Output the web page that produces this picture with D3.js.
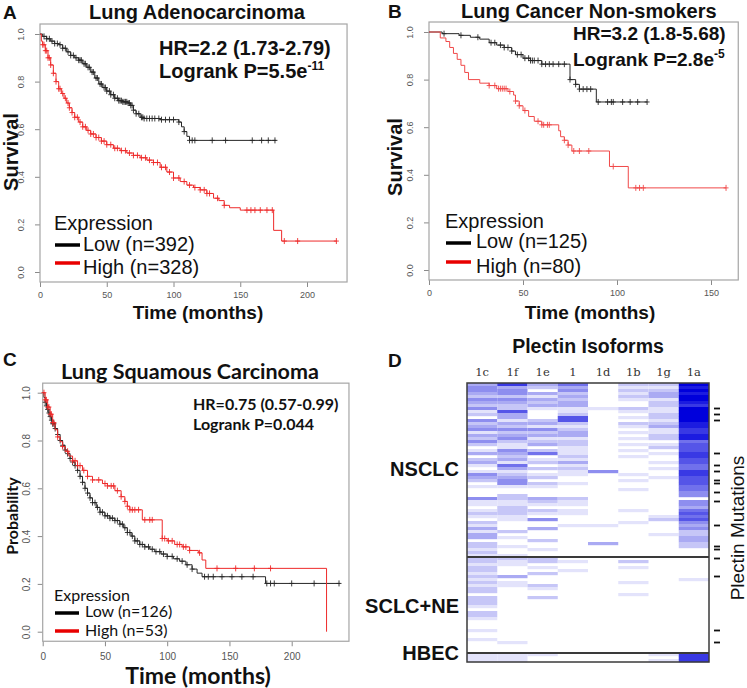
<!DOCTYPE html>
<html>
<head>
<meta charset="utf-8">
<title>Plectin survival and isoforms</title>
<script src="https://d3js.org/d3.v7.min.js"></script>
<style>
  body { margin: 0; background: #fff; }
</style>
</head>
<body>
<svg id="fig" width="747" height="688"></svg>
<script>
// ---------- Panel A: Lung Adenocarcinoma ----------
var aLowTime  = [0,2,5,8,11,14,17,20,23,26,29,32,35,38,41,44,47,50,53,56,59,62,66,68,70,72,75,78,90,104,106,108,110,112,177];
var aLowSurv  = [1,.99,.98,.97,.96,.955,.94,.925,.91,.90,.89,.875,.86,.84,.815,.79,.775,.76,.745,.73,.72,.715,.71,.70,.68,.665,.65,.645,.64,.63,.61,.59,.57,.553,.553];
var aLowCens  = [3,5,7,9,11,13,15,17,19,21,23,25,27,29,30,31,33,34,36,37,39,40,42,43,45,46,48,49,50,52,53,55,56,58,59,60,61,62,63,64,65,66,67,68,69,70,72,74,76,77,78,80,82,84,86,89,91,94,97,100,104,108,112,114,116,129,139,159,166,171,176];
var aHighTime = [0,1,2,4,6,8,10,12,14,16,18,20,22,24,26,29,32,35,38,42,46,50,55,60,65,70,75,80,85,90,95,100,105,110,115,120,125,130,134,138,142,150,175,181,222];
var aHighSurv = [1,.97,.955,.93,.90,.87,.835,.80,.77,.75,.73,.71,.69,.67,.65,.63,.61,.595,.58,.565,.55,.535,.52,.51,.50,.49,.48,.47,.46,.44,.42,.395,.38,.365,.355,.345,.33,.31,.30,.28,.27,.26,.175,.13,.13];
var aHighCens = [2,3,4,5,6,7,8,10,12,14,15,17,19,21,22,24,26,28,30,32,34,36,38,40,42,44,46,48,50,53,56,58,61,64,67,70,73,76,79,82,85,88,91,94,97,100,104,108,112,116,120,123,125,127,133,138,155,158,161,165,170,174,183,193,222];

// ---------- Panel B: Lung Cancer Non-smokers ----------
var bLowTime  = [0,7,16,22,27,32,36,40,44,46,50,54,60,75,78,80,89,116];
var bLowSurv  = [1,.993,.986,.978,.97,.955,.945,.935,.92,.905,.89,.88,.865,.80,.78,.76,.706,.706];
var bLowCens  = [8,17,26,33,35,38,40,42,44,47,49,51,53,54,55,56,58,60,62,64,66,69,72,75,78,80,82,84,86,90,95,97,98,103,107,111,116];
var bHighTime = [0,6,9,11,13,15,17,19,21,27,32,36,42,45,46,48,50,53,56,60,69,70,72,74,76,96,106,158];
var bHighSurv = [1,.975,.96,.935,.91,.885,.86,.83,.80,.785,.775,.762,.75,.735,.71,.69,.67,.645,.625,.61,.585,.56,.545,.525,.50,.435,.345,.345];
var bHighCens = [32,35,37,38,39,40,41,43,46,48,51,58,60,61,63,64,72,74,77,80,85,98,110,112,114,158];

// ---------- Panel C: Lung Squamous Carcinoma ----------
var cLowTime  = [0,1,2,3,4,5,6,7,8,10,12,14,16,18,20,22,24,26,28,30,32,34,36,38,40,43,46,50,54,58,62,65,68,71,74,78,82,86,90,95,100,105,110,115,120,124,128,179,239];
var cLowSurv  = [1,.98,.96,.945,.93,.915,.90,.885,.87,.85,.825,.80,.78,.76,.745,.725,.71,.695,.675,.65,.625,.60,.58,.56,.54,.52,.50,.485,.475,.465,.45,.435,.415,.40,.38,.365,.355,.345,.335,.325,.315,.305,.295,.28,.262,.245,.23,.202,.202];
var cLowCens  = [2,3,4,5,6,7,8,9,10,12,14,16,18,20,22,24,26,28,30,32,34,36,38,40,42,44,46,48,50,52,54,56,58,60,62,64,66,68,70,72,74,76,78,80,82,85,88,91,94,97,100,104,108,112,116,120,130,133,137,144,152,160,169,180,183,186,200,218,238];
var cHighTime = [0,2,4,6,8,10,12,14,16,18,21,24,28,32,36,40,48,52,58,63,66,68,70,80,96,100,106,112,118,125,128,131,228];
var cHighSurv = [1,.97,.94,.91,.875,.845,.815,.795,.775,.755,.735,.715,.695,.675,.65,.635,.62,.61,.59,.565,.545,.525,.51,.468,.39,.38,.365,.355,.34,.33,.30,.265,0];
var cHighCens = [1,2,3,4,5,6,7,8,9,12,16,20,24,26,28,30,33,36,40,45,50,52,55,57,60,63,66,68,70,72,74,77,82,86,88,96,98,101,104,108,110,113,115,118,126,140,155,170,183];

// ---------- Panel D: Plectin isoform heatmap (intensity 0-9 per sample row) ----------
var isoforms = ["1c","1f","1e","1","1d","1b","1g","1a"];
var groups = ["NSCLC","SCLC+NE","HBEC"];
var nsclcRows = [
  "3443243241"+"2042341324"+"2013023101"+"4320100041"+"1012102131"+"33022121",
  "7344243226"+"3313242342"+"1143231531"+"2344100221"+"1222110002"+"01001001",
  "3203132310"+"0023142312"+"3025012020"+"1202100032"+"1021040030"+"00200100",
  "5342323311"+"2662123312"+"2111213121"+"1001000021"+"1011000100"+"00000000",
  "0000000010"+"0000000000"+"0000000004"+"0000000000"+"0000000100"+"00030000",
  "2121210021"+"0102101010"+"1010100000"+"1010010000"+"0010001000"+"00000000",
  "2123312211"+"2212311220"+"1201001010"+"0100000000"+"0000120000"+"10000000",
  "9898998799"+"9998877885"+"6667766557"+"7666554404"+"4356564342"+"23322000"
];
var sclcRows = [
  "2212212121"+"2202221022"+"1000100100"+"00",
  "2110003011"+"0000000000"+"0000000010"+"00",
  "2201020002"+"1002000000"+"0000000000"+"00",
  "0100100000"+"0000000000"+"0000000000"+"00",
  "0000000000"+"0000000000"+"0000000000"+"00",
  "0201000010"+"0010000000"+"0000000000"+"00",
  "0000000000"+"0000000000"+"0000000000"+"00",
  "0000000100"+"0000000000"+"0000000000"+"00"
];
var hbecRows = ["111","111","100","000","000","000","101","777"];
var mutationRows = [8,10,12,23,27,29,32,33,36,39,47,54,55,58,64,82,86];

var yTicks = [0,0.2,0.4,0.6,0.8,1.0];
var ARIAL = '"Liberation Sans", Arial, sans-serif';
var CALIBRI = 'Lato, "Open Sans", sans-serif';

var svg = d3.select("#fig");
svg.append("rect").attr("width",747).attr("height",688).attr("fill","#fff");

function txt(x, y, s, size, fam, weight, anchor) {
  return svg.append("text").attr("x",x).attr("y",y).text(s)
    .attr("font-size",size).attr("font-family",fam)
    .attr("font-weight",weight || "normal").attr("text-anchor",anchor || "start")
    .attr("fill","#111");
}

function stepAt(ts, ss, t) {
  var i = d3.bisectRight(ts, t) - 1;
  return ss[Math.max(0, i)];
}

function styleAxis(sel) {
  sel.attr("color","#8a8a8a").attr("font-family",ARIAL);
  sel.select(".domain").remove();
  sel.selectAll("text").attr("fill","#555");
}

function kmPanel(p) {
  var g = svg.append("g");
  var x = d3.scaleLinear().domain([0, p.xRef]).range([p.x0, p.x1]);
  var y = d3.scaleLinear().domain([0, 1]).range([p.y0, p.y1]);
  var bx0 = x(0), bx1 = x(p.xEnd), by0 = y(1 + p.pad), by1 = y(-p.pad);

  g.append("g").attr("transform","translate(0,"+by1+")")
    .call(d3.axisBottom(x).tickValues(p.xTicks).tickSize(5).tickPadding(p.xPad))
    .call(styleAxis)
    .attr("font-size",p.tickFont);
  g.append("g").attr("transform","translate("+bx0+",0)")
    .call(d3.axisLeft(y).tickValues(yTicks).tickSize(5).tickFormat(d3.format(".1f")))
    .call(styleAxis)
    .attr("font-size",p.tickFont)
    .selectAll("text").attr("x",null).attr("dy",null).attr("text-anchor","middle")
    .attr("transform","translate("+p.yLab+",0) rotate(-90)");

  g.append("rect").attr("x",bx0).attr("y",by0).attr("width",bx1-bx0).attr("height",by1-by0)
    .attr("fill","none").attr("stroke","#a5a5a5").attr("stroke-width",1.2);

  var line = d3.line().x(function(d){return x(d[0]);}).y(function(d){return y(d[1]);}).curve(d3.curveStepAfter);
  p.curves.forEach(function(c) {
    var pts = c.t.map(function(t,i){return [t, c.s[i]];});
    g.append("path").datum(pts).attr("d",line).attr("fill","none")
      .attr("stroke",c.color).attr("stroke-width",1);
    g.selectAll(null).data(c.cens).enter().append("path")
      .attr("transform",function(d){return "translate("+x(d)+","+y(stepAt(c.t,c.s,d))+")";})
      .attr("d","M-2.5,0H2.5M0,-3V3").attr("fill","none")
      .attr("stroke",c.color).attr("stroke-width",0.9);
  });
}

var BLACK = "#262626", RED = "#ee2a2a";

kmPanel({x0:40, x1:307, xRef:200, xEnd:230, y0:272, y1:34, pad:0.042,
  xTicks:[0,50,100,150,200], xPad:5, yLab:-16, tickFont:9,
  curves:[{t:aLowTime,s:aLowSurv,cens:aLowCens,color:BLACK},
          {t:aHighTime,s:aHighSurv,cens:aHighCens,color:RED}]});
kmPanel({x0:429, x1:711, xRef:150, xEnd:164.5, y0:270, y1:32, pad:0.042,
  xTicks:[0,50,100,150], xPad:5, yLab:-16, tickFont:9,
  curves:[{t:bLowTime,s:bLowSurv,cens:bLowCens,color:BLACK},
          {t:bHighTime,s:bHighSurv,cens:bHighCens,color:"#f04848"}]});
kmPanel({x0:42.7, x1:291.7, xRef:200, xEnd:246, y0:631.7, y1:392.7, pad:0.04,
  xTicks:[0,50,100,150,200], xPad:7, yLab:-13, tickFont:10,
  curves:[{t:cLowTime,s:cLowSurv,cens:cLowCens,color:BLACK},
          {t:cHighTime,s:cHighSurv,cens:cHighCens,color:RED}]});

function legendLine(x1, x2, y, color, w) {
  svg.append("line").attr("x1",x1).attr("x2",x2).attr("y1",y).attr("y2",y)
    .attr("stroke",color).attr("stroke-width",w);
}

// ---- Panel A text ----
txt(3, 19, "A", 19, ARIAL, "bold");
txt(89, 19, "Lung Adenocarcinoma", 20, ARIAL, "bold");
txt(159, 55, "HR=2.2 (1.73-2.79)", 20, ARIAL, "bold");
txt(159, 78, "Logrank P=5.5e", 20, ARIAL, "bold")
  .append("tspan").attr("dy",-8).attr("font-size",12).text("-11");
txt(54, 230, "Expression", 20, ARIAL);
legendLine(55, 80, 245, "#000", 3.5);
txt(83, 251, "Low (n=392)", 20, ARIAL);
legendLine(55, 80, 263, "#e80000", 3.5);
txt(83, 274, "High (n=328)", 20, ARIAL);
txt(198, 319, "Time (months)", 19, ARIAL, "bold", "middle");
txt(0, 0, "Survival", 20, ARIAL, "bold", "middle").attr("transform","translate(18,152) rotate(-90)");

// ---- Panel B text ----
txt(388, 18, "B", 19, ARIAL, "bold");
txt(461, 18, "Lung Cancer Non-smokers", 20, ARIAL, "bold");
txt(573, 40, "HR=3.2 (1.8-5.68)", 19, ARIAL, "bold");
txt(573, 66, "Logrank P=2.8e", 19, ARIAL, "bold")
  .append("tspan").attr("dy",-8).attr("font-size",12).text("-5");
txt(445, 228, "Expression", 20, ARIAL);
legendLine(446, 471, 243, "#000", 3.5);
txt(476, 248, "Low (n=125)", 20, ARIAL);
legendLine(446, 471, 262, "#e80000", 3.5);
txt(476, 273, "High (n=80)", 20, ARIAL);
txt(590, 319, "Time (months)", 19, ARIAL, "bold", "middle");
txt(0, 0, "Survival", 20, ARIAL, "bold", "middle").attr("transform","translate(402,157) rotate(-90)");

// ---- Panel C text ----
txt(3, 366, "C", 19, ARIAL, "bold");
txt(190, 379, "Lung Squamous Carcinoma", 21.5, CALIBRI, "bold", "middle");
txt(193, 410, "HR=0.75 (0.57-0.99)", 16, CALIBRI, "bold");
txt(193, 430, "Logrank P=0.044", 16, CALIBRI, "bold");
txt(54, 601, "Expression", 16, CALIBRI);
legendLine(55, 79, 613, "#000", 3.5);
txt(85, 617, "Low (n=126)", 16, CALIBRI);
legendLine(55, 79, 631, "#e80000", 3.5);
txt(85, 636, "High (n=53)", 16, CALIBRI);
txt(198, 684, "Time (months)", 23, CALIBRI, "bold", "middle");
txt(0, 0, "Probability", 16, CALIBRI, "bold", "middle").attr("transform","translate(18,516) rotate(-90)");

// ---- Panel D heatmap ----
var nN = nsclcRows[0].length, nS = sclcRows[0].length, nH = hbecRows[0].length;
var hx = d3.scaleBand().domain(isoforms).range([467, 709]);
var hy = d3.scaleBand().domain(d3.range(nN + nS + nH)).range([383, 662]);
var shade = d3.scaleLinear().domain([0, 9]).range(["#ffffff", "#0000dc"]);

var cells = [];
[[nsclcRows, 0], [sclcRows, nN], [hbecRows, nN + nS]].forEach(function(gr) {
  gr[0].forEach(function(str, c) {
    str.split("").forEach(function(ch, k) {
      if (+ch > 0) cells.push({iso: isoforms[c], row: gr[1] + k, v: +ch});
    });
  });
});
svg.append("g").selectAll("rect").data(cells).enter().append("rect")
  .attr("x", function(d){return hx(d.iso);})
  .attr("y", function(d){return hy(d.row);})
  .attr("width", hx.bandwidth())
  .attr("height", hy.bandwidth() + 0.2)
  .attr("fill", function(d){return shade(d.v);});

svg.append("rect").attr("x",467).attr("y",383).attr("width",242).attr("height",279)
  .attr("fill","none").attr("stroke","#3a3a3a").attr("stroke-width",1.5);
[nN, nN + nS].forEach(function(r) {
  svg.append("line").attr("x1",467).attr("x2",709).attr("y1",hy(r)).attr("y2",hy(r))
    .attr("stroke","#3a3a3a").attr("stroke-width",1.8);
});

svg.append("g").selectAll("line").data(mutationRows).enter().append("line")
  .attr("x1",714).attr("x2",720)
  .attr("y1",function(d){return hy(d) + hy.bandwidth()/2;})
  .attr("y2",function(d){return hy(d) + hy.bandwidth()/2;})
  .attr("stroke","#111").attr("stroke-width",1.8);

svg.append("g").selectAll("text").data(isoforms).enter().append("text")
  .attr("x", function(d){return hx(d) + hx.bandwidth()/2;})
  .attr("y", 376).attr("text-anchor","middle")
  .attr("font-family",'"DejaVu Serif", serif').attr("font-size",11.5).attr("fill","#333")
  .text(function(d){return d;});

var groupLabelY = [476, 613, 660];
groups.forEach(function(gname, i) {
  txt(459, groupLabelY[i], gname, 20, ARIAL, "bold", "end");
});
txt(388, 367, "D", 19, ARIAL, "bold");
txt(588, 353, "Plectin Isoforms", 19.5, ARIAL, "bold", "middle");
txt(0, 0, "Plectin Mutations", 19, ARIAL, "normal", "middle").attr("transform","translate(744,528) rotate(-90)");
</script>
</body>
</html>
